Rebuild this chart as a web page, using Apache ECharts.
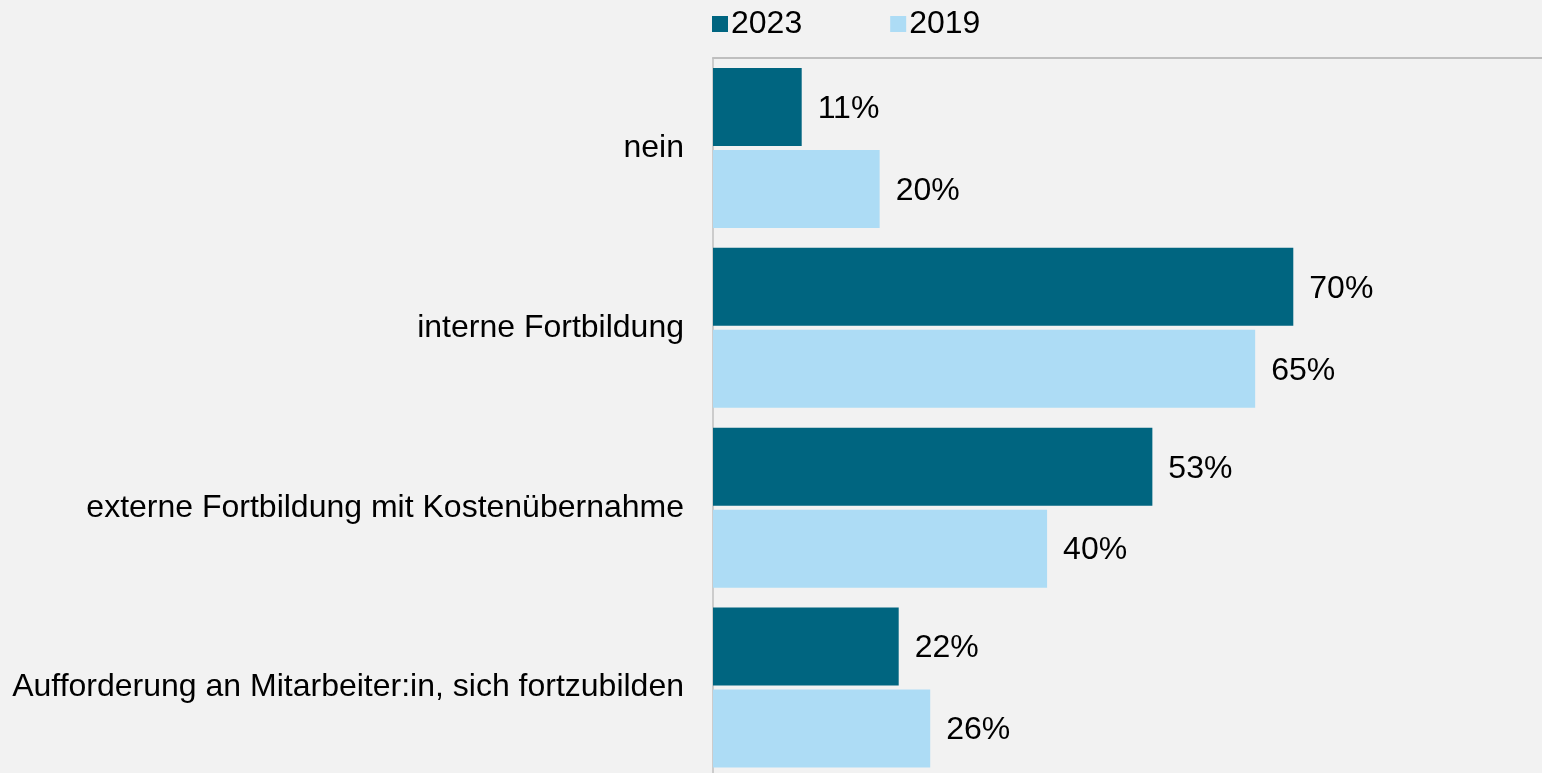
<!DOCTYPE html>
<html>
<head>
<meta charset="utf-8">
<script src="https://cdn.jsdelivr.net/npm/echarts@6/dist/echarts.min.js"></script>
<style>
html,body{margin:0;padding:0;background:#f2f2f2;overflow:hidden;}
#chart{width:1542px;height:790px;}
</style>
</head>
<body>
<div id="chart"></div>
<script>
const categories = ['nein', 'interne Fortbildung', 'externe Fortbildung mit Kostenübernahme', 'Aufforderung an Mitarbeiter:in, sich fortzubilden'];
const seriesNames = ['2023', '2019'];
const values2023 = [10.7, 70.0, 53.0, 22.4];
const values2019 = [20.1, 65.4, 40.3, 26.2];

const FONT = '"Liberation Sans", Arial, sans-serif';
const FS = 32;
const chart = echarts.init(document.getElementById('chart'), null, {renderer: 'canvas'});

const labelOpt = {
  show: true,
  position: 'right',
  distance: 16,
  offset: [0, 2],
  color: '#000',
  fontFamily: FONT,
  fontSize: FS,
  formatter: p => Math.round(p.value) + '%'
};

chart.setOption({
  backgroundColor: '#f2f2f2',
  animation: false,
  legend: {
    data: seriesNames,
    left: 707,
    top: 3,
    itemWidth: 16,
    itemHeight: 16,
    itemGap: 88,
    icon: 'rect',
    textStyle: {color: '#000', fontFamily: FONT, fontSize: FS, lineHeight: 32, padding: [0,0,0,-2]}
  },
  grid: {left: 713, top: 58, right: 0, height: 719.5, containLabel: false},
  xAxis: {
    type: 'value',
    min: 0,
    max: 100,
    position: 'top',
    axisLine: {show: true, lineStyle: {color: '#bfbfbf', width: 2}},
    axisTick: {show: false},
    axisLabel: {show: false},
    splitLine: {show: false}
  },
  yAxis: {
    type: 'category',
    data: categories,
    inverse: true,
    axisLine: {show: true, lineStyle: {color: '#bfbfbf', width: 1.5}},
    axisTick: {show: false},
    axisLabel: {color: '#000', fontFamily: FONT, fontSize: FS, margin: 29, align: 'right'}
  },
  series: [
    {name: seriesNames[0], type: 'bar', data: values2023, barWidth: 78, barGap: '5%',
     itemStyle: {color: '#006580'}, label: labelOpt},
    {name: seriesNames[1], type: 'bar', data: values2019, barWidth: 78, barGap: '5%',
     itemStyle: {color: '#addcf5'}, label: labelOpt}
  ]
});
</script>
</body>
</html>
